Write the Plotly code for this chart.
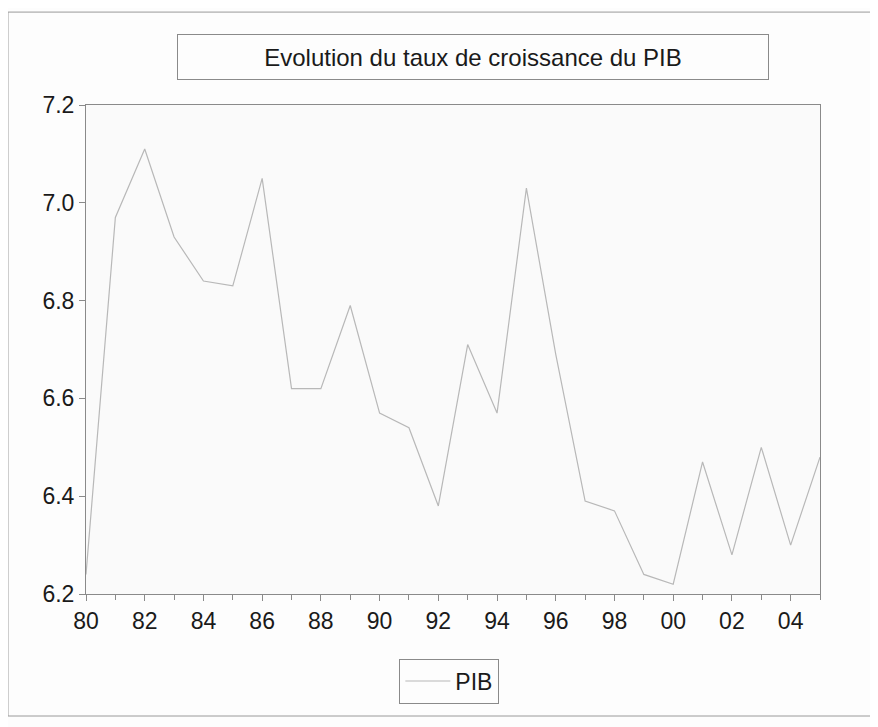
import plotly.graph_objects as go

years = list(range(1980, 2006))
pib = [6.24, 6.97, 7.11, 6.93, 6.84, 6.83, 7.05, 6.62, 6.62, 6.79,
       6.57, 6.54, 6.38, 6.71, 6.57, 7.03, 6.69, 6.39, 6.37, 6.24,
       6.22, 6.47, 6.28, 6.50, 6.30, 6.48]
tick_years = list(range(1980, 2005, 2))
tick_text = ["80", "82", "84", "86", "88", "90", "92", "94", "96", "98", "00", "02", "04"]
y_ticks = [6.2, 6.4, 6.6, 6.8, 7.0, 7.2]

FONT = "Liberation Sans, Arial, sans-serif"

fig = go.Figure()
fig.add_trace(go.Scatter(x=years, y=pib, mode="lines", name="PIB",
                         line=dict(color="#b8b8b8", width=1.2)))

fig.update_layout(
    width=870, height=719,
    margin=dict(l=78, r=58, t=97, b=133),
    paper_bgcolor="#fdfdfd",
    plot_bgcolor="#fafafa",
    font=dict(family=FONT, size=22, color="#1a1a1a"),
    showlegend=True,
    legend=dict(x=0.495, y=-0.178, xanchor="center", yanchor="middle",
                bordercolor="#8a8a8a", borderwidth=1, bgcolor="rgba(0,0,0,0)",
                itemwidth=45,
                font=dict(family=FONT, size=23, color="#1a1a1a")),
    xaxis=dict(range=[1980, 2005], tickmode="array", tickvals=tick_years, ticktext=tick_text,
               showgrid=False, zeroline=False, showline=True, linecolor="#8a8a8a", linewidth=1,
               mirror=True, ticks="outside", ticklen=6, tickcolor="#8a8a8a",
               minor=dict(dtick=1, tick0=1980, ticks="outside", ticklen=5, tickcolor="#8a8a8a", showgrid=False),
               tickfont=dict(family=FONT, size=23, color="#1a1a1a")),
    yaxis=dict(range=[6.2, 7.2], tickmode="array", tickvals=y_ticks,
               ticktext=[f"{v:.1f}" for v in y_ticks],
               showgrid=False, zeroline=False, showline=True, linecolor="#8a8a8a", linewidth=1,
               mirror=True, ticks="outside", ticklen=6, tickcolor="#8a8a8a",
               tickfont=dict(family=FONT, size=23, color="#1a1a1a")),
)

fig.add_annotation(text="Evolution du taux de croissance du PIB", xref="paper", yref="paper",
                   x=0.527, y=1.098, xanchor="center", yanchor="middle", showarrow=False,
                   font=dict(family=FONT, size=24, color="#1a1a1a"),
                   bordercolor="#8a8a8a", borderwidth=1, width=588, height=42)

fig.add_shape(type="rect", xref="paper", yref="paper",
              x0=-0.1063, x1=1.0708, y0=-0.2495, y1=1.190,
              line=dict(color="#9a9a9a", width=1))

fig.write_html("out.html")
